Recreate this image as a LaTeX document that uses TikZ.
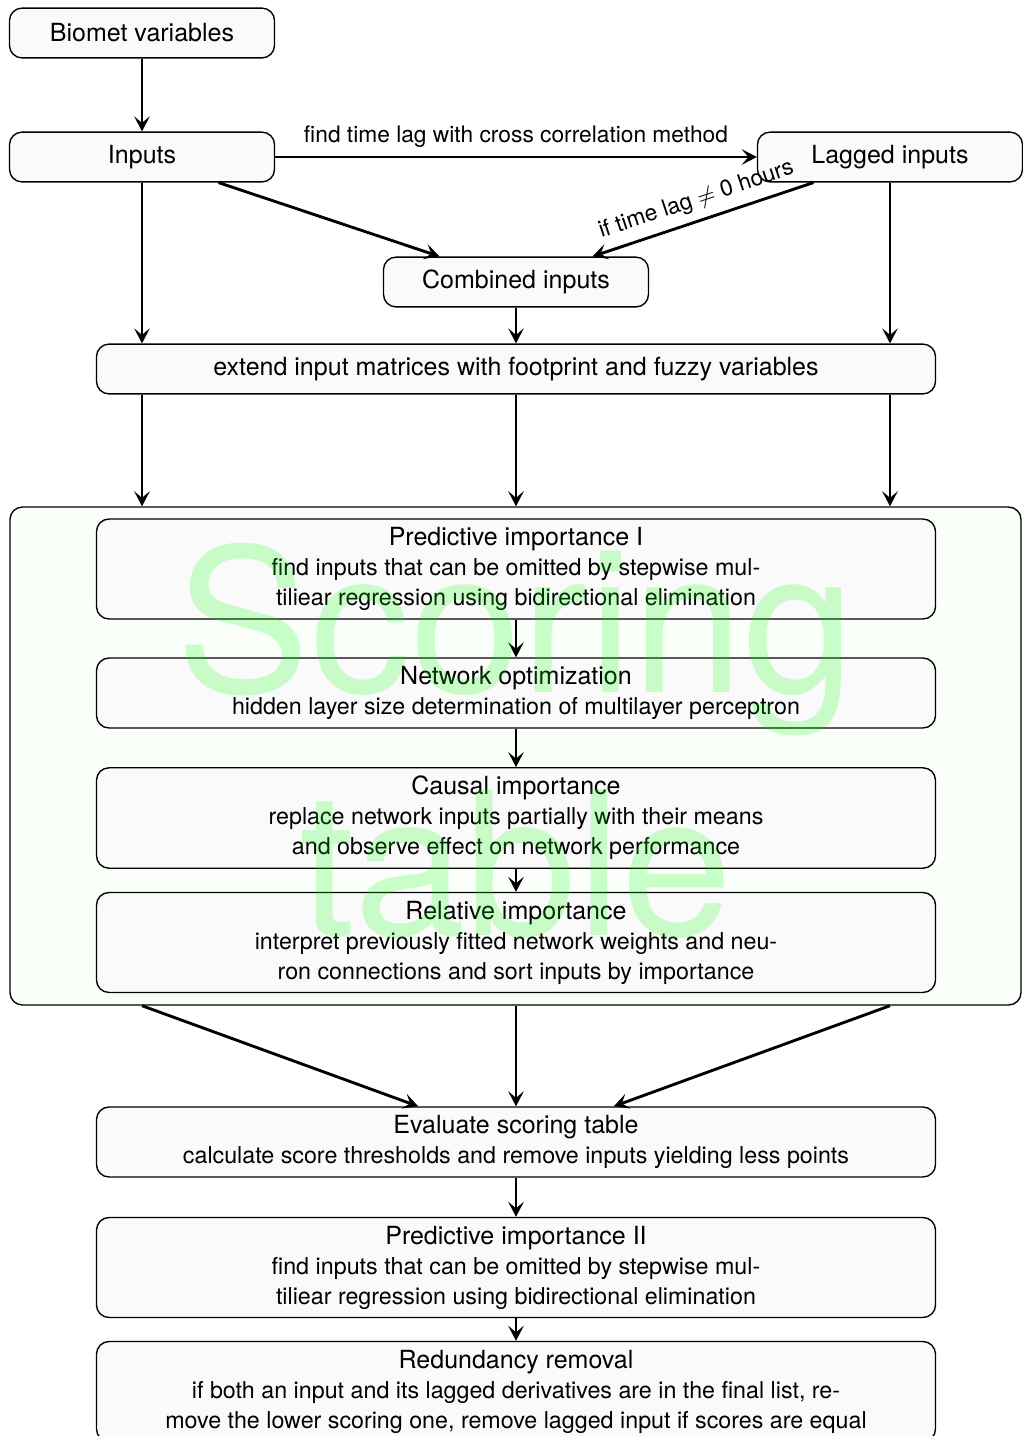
\documentclass[tikz,border=0pt]{standalone}
\usepackage{fontspec}
\setmainfont{TeX Gyre Heros}
\usepackage{xcolor}
\usetikzlibrary{arrows.meta,positioning}
\newcommand{\boxbody}{\fontsize{9.3}{12}\selectfont}
\tikzset{
  box/.style={rounded corners=5pt,draw=black,fill=black!2,align=center,line width=0.55pt,minimum height=7mm},
  smallbox/.style={box,minimum width=106pt},
  widebox/.style={box,minimum width=335.6pt},
  groupbox/.style={rounded corners=5pt,draw=black,fill=green!2,line width=0.55pt,minimum width=404.4pt,minimum height=199.2pt},
  ar/.style={-{Stealth[length=6pt,width=6.2pt,inset=2.6pt]},draw=black,line width=1.15pt},
  arlabel/.style={font=\fontsize{9.1}{11}\selectfont},
  watermark/.style={text=green,text opacity=0.2,inner sep=0pt,align=center,font=\fontsize{80}{97}\selectfont},
}
\begin{document}
\begin{tikzpicture}[x=0.4pt,y=-0.4pt]
  \useasboundingbox (0,0) rectangle (1022,1436);
  % input stage
  \node[smallbox] (bio) at (142,33) {Biomet variables};
  \node[smallbox] (inputs) at (142,157) {Inputs};
  \node[smallbox] (lagged) at (890,157) {Lagged inputs};
  \node[smallbox] (combined) at (516,282) {Combined inputs};
  \node[widebox] (extend) at (516,369) {extend input matrices with footprint and fuzzy variables};
  % scoring table
  \node[groupbox] (scoring) at (515.5,756) {};
  \node[widebox] (pimp1) at (516,569) {Predictive importance I\\\boxbody find inputs that can be omitted by stepwise mul-\\\boxbody tiliear regression using bidirectional elimination};
  \node[widebox] (netopt) at (516,693) {Network optimization\\\boxbody hidden layer size determination of multilayer perceptron};
  \node[widebox] (causal) at (516,818) {Causal importance\\\boxbody replace network inputs partially with their means\\\boxbody and observe effect on network performance};
  \node[widebox] (relimp) at (516,942.5) {Relative importance\\\boxbody interpret previously fitted network weights and neu-\\\boxbody ron connections and sort inputs by importance};
  % final stage
  \node[widebox] (evaluate) at (516,1142) {Evaluate scoring table\\\boxbody calculate score thresholds and remove inputs yielding less points};
  \node[widebox] (pimp2) at (516,1267.5) {Predictive importance II\\\boxbody find inputs that can be omitted by stepwise mul-\\\boxbody tiliear regression using bidirectional elimination};
  \node[widebox] (redund) at (516,1391.5) {Redundancy removal\\\boxbody if both an input and its lagged derivatives are in the final list, re-\\\boxbody move the lower scoring one, remove lagged input if scores are equal};

  \draw[ar] (bio) -- (inputs);
  \draw[ar] (inputs) -- node[arlabel,above]{find time lag with cross correlation method} (lagged);
  \draw[ar] (inputs) -- (combined);
  \draw[ar] (lagged) -- node[arlabel,midway,above,sloped]{if time lag $\neq$ 0 hours} (combined);
  \draw[ar] (inputs) -- (inputs |- extend.north);
  \draw[ar] (combined) -- (extend);
  \draw[ar] (lagged) -- (lagged |- extend.north);
  \foreach \src in {inputs,combined,lagged}
    \draw[ar] (extend.south -| \src) -- (scoring.north -| \src);
  \draw[ar] (pimp1) -- (netopt);
  \draw[ar] (netopt) -- (causal);
  \draw[ar] (causal) -- (relimp);
  \foreach \src in {inputs,combined,lagged}
    \draw[ar] (scoring.south -| \src) -- (evaluate);
  \draw[ar] (evaluate) -- (pimp2);
  \draw[ar] (pimp2) -- (redund);

  \node[watermark] (wm) at (516,741) {Scoring\\table};
\end{tikzpicture}
\end{document}
